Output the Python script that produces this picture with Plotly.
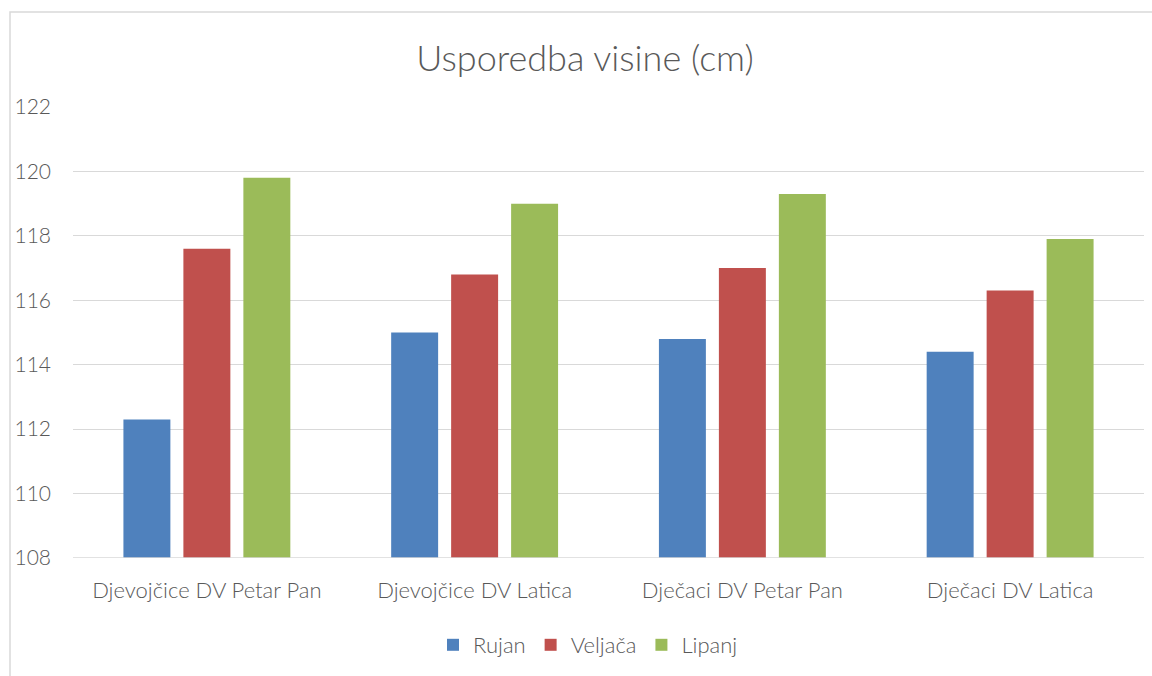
import plotly.graph_objects as go

categories = ["Djevojčice DV Petar Pan", "Djevojčice DV Latica", "Dječaci DV Petar Pan", "Dječaci DV Latica"]
series_names = ["Rujan", "Veljača", "Lipanj"]
rujan = [112.3, 115.0, 114.8, 114.4]
veljaca = [117.6, 116.8, 117.0, 116.3]
lipanj = [119.8, 119.0, 119.3, 117.9]
colors = ["#4F81BD", "#C0504D", "#9BBB59"]
y_ticks = [108, 110, 112, 114, 116, 118, 120, 122]

font_family = "Lato, 'Open Sans', sans-serif"
text_color = "#595959"
fw = 300

fig = go.Figure()
for name, vals, col in zip(series_names, [rujan, veljaca, lipanj], colors):
    fig.add_trace(go.Bar(x=categories, y=vals, name=name, marker=dict(color=col, line=dict(width=0))))

W, H = 1152, 676
L, R, T, B = 73, 8, 107, 118
pw = W - L - R
ph = H - T - B

fig.update_layout(
    width=W, height=H,
    margin=dict(l=L, r=R, t=T, b=B),
    paper_bgcolor="white", plot_bgcolor="white",
    barmode="group", bargap=0.328, bargroupgap=0.217,
    title=dict(text="Usporedba visine (cm)", x=585 / W, xanchor="center",
               y=1 - 58 / H, yanchor="middle", xref="container", yref="container",
               font=dict(family=font_family, size=36, color=text_color, weight=fw)),
    font=dict(family=font_family, color=text_color, size=22, weight=fw),
    legend=dict(orientation="h", x=588 / W, xref="container", xanchor="center",
                y=1 - 645 / H, yref="container", yanchor="middle",
                font=dict(size=22, color=text_color, weight=fw), itemwidth=30,
                traceorder="normal"),
    showlegend=True,
    shapes=[dict(type="rect", xref="paper", yref="paper",
                 x0=(10 - L) / pw, x1=(1170 - L) / pw,
                 y0=-(700 - T - ph) / ph, y1=1 + (T - 12) / ph,
                 line=dict(color="#D9D9D9", width=1.5), fillcolor="rgba(0,0,0,0)", layer="below")],
)
fig.update_xaxes(showgrid=False, showline=False, ticks="", ticklabelstandoff=17,
                 tickfont=dict(size=22, color=text_color, weight=fw))
fig.update_yaxes(range=[108, 122], tickvals=y_ticks, showgrid=True, gridcolor="#D9D9D9", gridwidth=1,
                 zeroline=False, showline=False, ticks="", ticklabelstandoff=21,
                 tickfont=dict(size=21, color=text_color, weight=fw))
fig.add_hline(y=108, line=dict(color="#D9D9D9", width=1.5))

fig.write_html("out.html", config={"displayModeBar": False},
               post_script="document.body.style.margin='0';")
